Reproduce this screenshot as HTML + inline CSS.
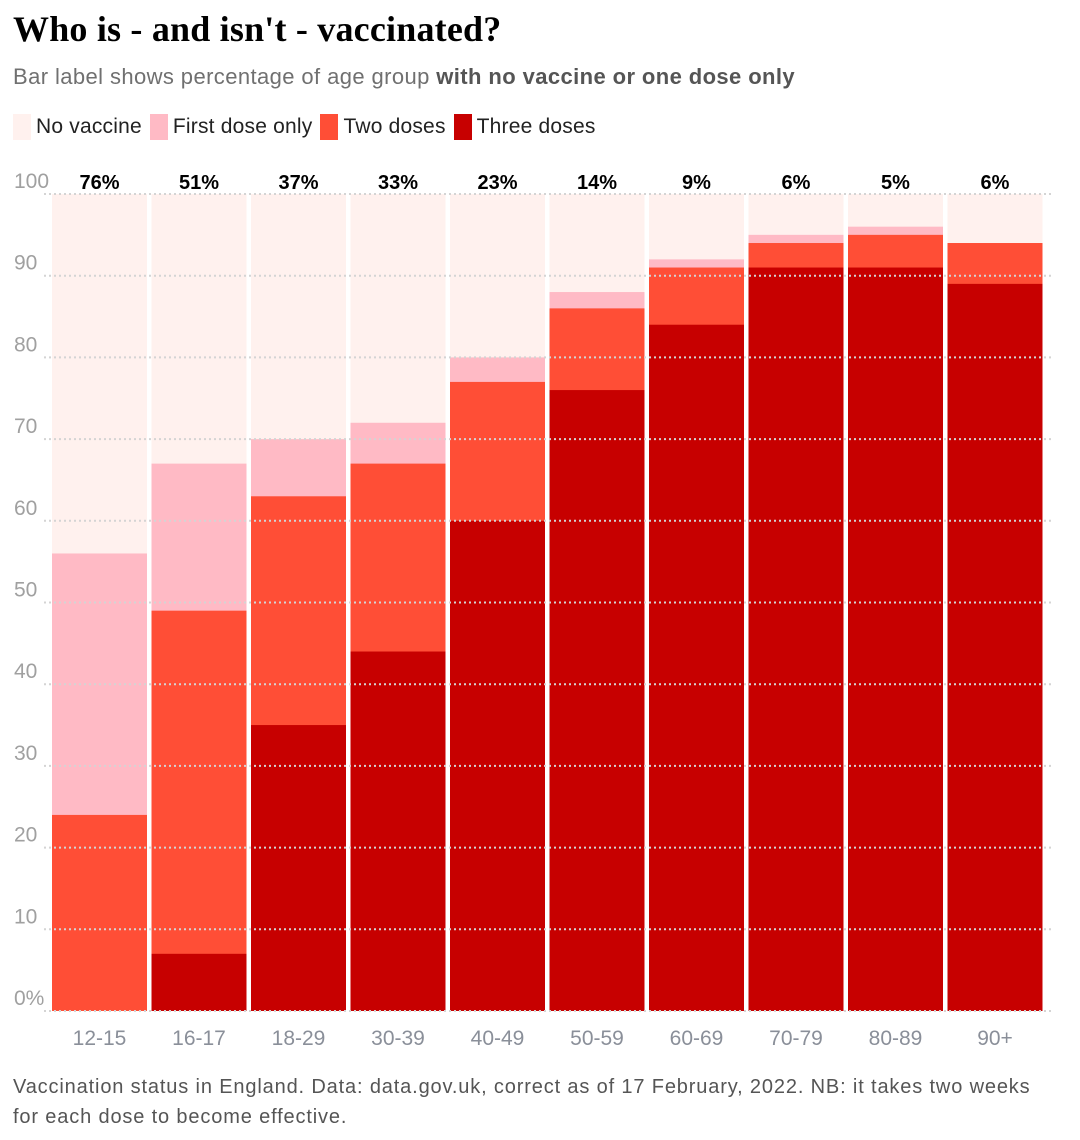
<!DOCTYPE html>
<html><head><meta charset="utf-8"><style>
body{margin:0;background:#fff;font-family:"Liberation Sans",sans-serif;}
#wrap{position:relative;width:1080px;height:1140px;overflow:hidden}
h1{position:absolute;left:13px;top:8px;margin:0;font-family:"Liberation Serif",serif;font-weight:bold;font-size:36px;letter-spacing:0.2px;color:#000}
.sub{position:absolute;left:13px;top:64px;font-size:22px;color:#707070;letter-spacing:0.4px}
.sub b{color:#555}
.legend{position:absolute;left:13px;top:114px;font-size:21px;color:#222;display:flex;letter-spacing:0.2px}
.li{display:flex;align-items:center;margin-right:8px}
.sw{width:18px;height:26px;margin-right:5px}
.foot{position:absolute;left:13px;top:1072px;font-size:20px;color:#555;line-height:30px;letter-spacing:0.85px}
svg{position:absolute;left:0;top:0}
</style></head><body><div id="wrap">
<h1>Who is - and isn't - vaccinated?</h1>
<div class="sub">Bar label shows percentage of age group <b>with no vaccine or one dose only</b></div>
<div class="legend">
<div class="li"><div class="sw" style="background:#fff1ee"></div>No vaccine</div>
<div class="li"><div class="sw" style="background:#ffbac5"></div>First dose only</div>
<div class="li"><div class="sw" style="background:#ff4e36"></div>Two doses</div>
<div class="li"><div class="sw" style="background:#c70000"></div>Three doses</div>
</div>
<svg id="chart" width="1080" height="1140"></svg>
<div class="foot">Vaccination status in England. Data: data.gov.uk, correct as of 17 February, 2022. NB: it takes two weeks<br>for each dose to become effective.</div>
</div>
<script>
const categories=["12-15","16-17","18-29","30-39","40-49","50-59","60-69","70-79","80-89","90+"];
const threeDoses=[0,7,35,44,60,76,84,91,91,89];
const twoDoses=[24,42,28,23,17,10,7,3,4,5];
const firstDose=[32,18,7,5,3,2,1,1,1,0];
const yTicks=[0,10,20,30,40,50,60,70,80,90,100];
const NS="http://www.w3.org/2000/svg";
const svg=document.getElementById('chart');
const y0=1011,y100=194,x0=52,pitch=99.5,bw=95;
const y=v=>y0-(y0-y100)*v/100;
const xb=i=>x0+i*pitch;
function mk(t,a){const e=document.createElementNS(NS,t);for(const k in a)e.setAttribute(k,a[k]);svg.appendChild(e);return e;}
categories.forEach((c,i)=>{
  const t=threeDoses[i],w=twoDoses[i],f=firstDose[i];
  const segs=[[0,100,'#fff1ee','bar-no-vaccine'],[0,t+w+f,'#ffbac5','bar-first-dose'],[0,t+w,'#ff4e36','bar-two-doses'],[0,t,'#c70000','bar-three-doses']];
  segs.forEach(s=>{
    const r=mk('rect',{x:xb(i),y:y(s[1]),width:bw,height:y(s[0])-y(s[1]),fill:s[2]});
    
    
  });
  const lbl=mk('text',{x:xb(i)+bw/2,y:189,'text-anchor':'middle','font-size':20,'font-weight':'bold',fill:'#000'});
  lbl.textContent=(100-t-w)+'%';
  
  
  const xl=mk('text',{x:xb(i)+bw/2,y:1045,'text-anchor':'middle','font-size':21,fill:'#8a8f99'});
  xl.textContent=c;
  
  
});
yTicks.forEach(v=>{
  const g=mk('line',{x1:44,x2:1052,y1:y(v),y2:y(v),stroke:'#d4d4d4','stroke-width':2,'stroke-dasharray':'2,3'});
  
  
  const tl=mk('text',{x:14,y:y(v)-6,'font-size':21,fill:'#a0a0a0'});
  tl.textContent=v===0?'0%':v;
  
  
});
</script></body></html>
